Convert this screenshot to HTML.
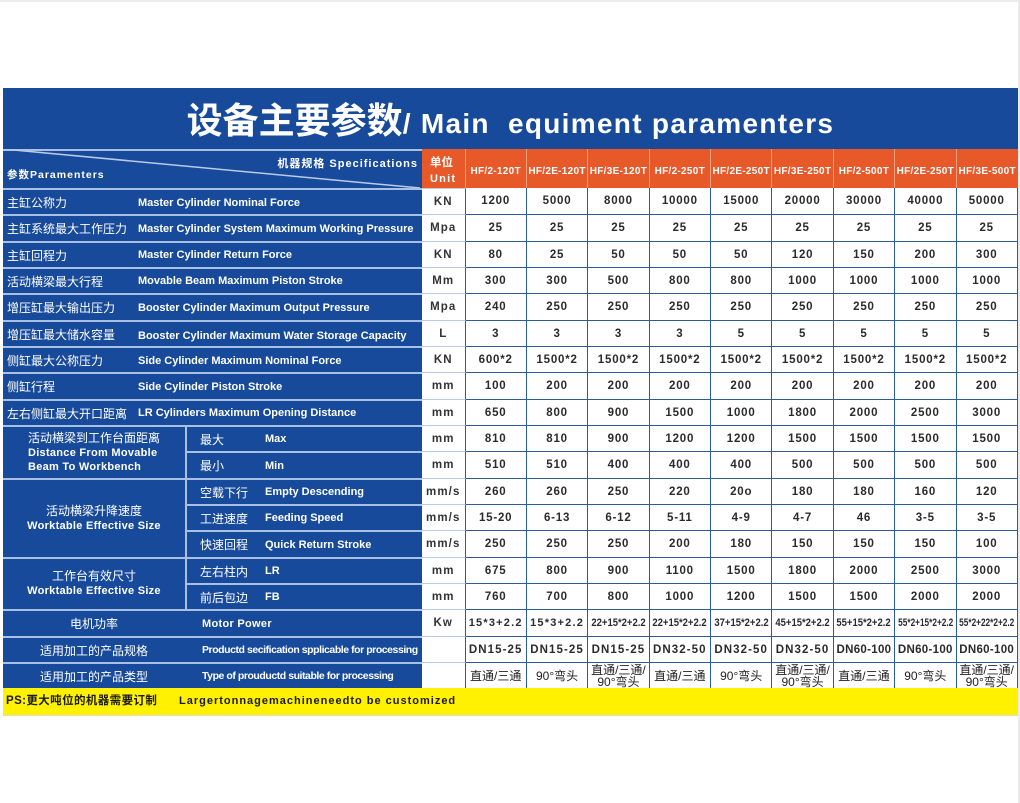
<!DOCTYPE html>
<html><head><meta charset="utf-8">
<style>
*{box-sizing:border-box;margin:0;padding:0}
body{width:1020px;height:803px;position:relative;overflow:hidden;background:#fff;font-family:"Liberation Sans","Noto Sans CJK SC",sans-serif}
.a{position:absolute}
.row{position:absolute;left:3px;width:1015px;display:flex}
.lab{flex:0 0 419px;width:419px;position:relative;background:#174a9b;border-top:2px solid #a9c0e2;color:#fff}
.lab.g{border-top:none;display:flex}
.ga{flex:0 0 182px;width:182px;position:relative;height:100%}
.gb{flex:0 0 237px;width:237px;position:relative;height:100%;border-top:2px solid #a9c0e2;border-left:2px solid #a9c0e2}
.bt{border-top:2px solid #a9c0e2}
.nl{border-left:none}
.cn{position:absolute;left:4px;top:0;bottom:0;display:flex;align-items:center;font-size:12px;white-space:nowrap}
.en{position:absolute;left:135px;top:0;bottom:0;display:flex;align-items:center;font-size:11px;font-weight:bold;white-space:nowrap}
.s1{left:13px}
.s2{left:78px}
.ce{left:0;right:0;justify-content:center}
.en2{left:17px;font-size:10.5px;letter-spacing:-0.45px}
.u{flex:0 0 43.5px;width:43.5px;background:#fff;border-top:1px solid #bccce4;border-right:1px solid #2d5a9e;display:flex;align-items:center;justify-content:center;font-weight:bold;font-size:11.5px;letter-spacing:1.1px;color:#333}
.d{flex:0 0 61.39px;width:61.39px;min-width:0;background:#fff;border-top:1px solid #2d5a9e;border-right:1px solid #2d5a9e;display:flex;align-items:center;justify-content:center;font-weight:bold;font-size:11.5px;letter-spacing:.8px;color:#2b2b2b;white-space:nowrap;overflow:visible}
.r1 .d{border-top:none}
.k{display:inline-block;font-size:11px;letter-spacing:0;transform:scaleX(.86);flex:none}
.k2{display:inline-block;font-size:11px;letter-spacing:0;transform:scaleX(.75);flex:none}
.dn{font-size:11.5px;letter-spacing:1.1px}
.dn2{letter-spacing:.3px;font-size:11.5px}
.t2{font-size:12px;font-weight:normal;letter-spacing:0;line-height:12px;text-align:center;color:#222}
.grp{position:absolute;left:3px;width:182px;display:flex;flex-direction:column;justify-content:center;align-items:center;color:#fff;z-index:2}
.grp .c{font-size:12px;line-height:15px}
.grp .e{font-size:11px;font-weight:bold;line-height:14.5px;letter-spacing:.28px;white-space:nowrap}
.hm{flex:0 0 61.39px;width:61.39px;min-width:0;border-right:1px solid #f2a07c;display:flex;justify-content:center;align-items:center;padding-top:5px;font-weight:bold;font-size:10px;letter-spacing:.3px;color:#fff;white-space:nowrap}
</style></head>
<body>
<div class="a" style="left:0;top:0;width:1020px;height:2px;background:#ebebeb"></div>
<div class="a" style="left:1018px;top:0;width:2px;height:803px;background:#ebebeb"></div>

<!-- Title -->
<div class="a" style="left:3px;top:88px;width:1015px;height:61px;background:#174a9b;color:#fff;text-align:center;line-height:61px;white-space:pre"><span style="font-family:'Noto Sans CJK SC','Liberation Sans',sans-serif;font-weight:bold;font-size:36px">设备主要参数</span><span style="font-family:'Liberation Sans',sans-serif;font-weight:bold;font-size:28px;letter-spacing:1.3px">/ Main  equiment paramenters</span></div>

<!-- Header -->
<div class="row" style="top:149px;height:39px">
  <div class="lab" style="border-top:2px solid #a9c0e2">
    <svg class="a" style="left:0;top:-2px" width="419" height="39"><line x1="0" y1="0" x2="417" y2="39" stroke="#b9cbe6" stroke-width="1.5"/></svg>
    <span class="a" style="right:4px;top:4px;font-size:11px;font-weight:bold;letter-spacing:1px;white-space:nowrap">机器规格 Specifications</span>
    <span class="a" style="left:4px;top:16px;font-size:10.5px;font-weight:bold;letter-spacing:1px;white-space:nowrap">参数Paramenters</span>
  </div>
  <div style="flex:0 0 43.5px;width:43.5px;background:#e8592a;border-right:1px solid #f2a07c;position:relative;color:#fff;font-weight:bold">
    <span class="a" style="left:8px;top:7px;font-size:11.5px;line-height:15px">单位</span>
    <span class="a" style="left:8px;top:23px;font-size:11px;letter-spacing:1.2px;line-height:15px">Unit</span>
  </div>
  <div style="flex:0 0 552.5px;width:552.5px;display:flex;background:#e8592a">
    <div class="hm">HF/2-120T</div><div class="hm">HF/2E-120T</div><div class="hm">HF/3E-120T</div><div class="hm">HF/2-250T</div><div class="hm">HF/2E-250T</div><div class="hm">HF/3E-250T</div><div class="hm">HF/2-500T</div><div class="hm">HF/2E-250T</div><div class="hm" style="border-right:none">HF/3E-500T</div>
  </div>
</div>

<!-- Rows 1-9 -->
<div class="row r1" style="top:188px;height:26px"><div class="lab"><span class="cn">主缸公称力</span><span class="en" style="padding-top:2px">Master Cylinder Nominal Force</span></div><div class="u">KN</div>
<div class="d">1200</div><div class="d">5000</div><div class="d">8000</div><div class="d">10000</div><div class="d">15000</div><div class="d">20000</div><div class="d">30000</div><div class="d">40000</div><div class="d">50000</div></div>

<div class="row" style="top:214px;height:27px"><div class="lab"><span class="cn">主缸系统最大工作压力</span><span class="en">Master Cylinder System Maximum Working Pressure</span></div><div class="u">Mpa</div>
<div class="d">25</div><div class="d">25</div><div class="d">25</div><div class="d">25</div><div class="d">25</div><div class="d">25</div><div class="d">25</div><div class="d">25</div><div class="d">25</div></div>

<div class="row" style="top:241px;height:26px"><div class="lab"><span class="cn">主缸回程力</span><span class="en">Master Cylinder Return Force</span></div><div class="u">KN</div>
<div class="d">80</div><div class="d">25</div><div class="d">50</div><div class="d">50</div><div class="d">50</div><div class="d">120</div><div class="d">150</div><div class="d">200</div><div class="d">300</div></div>

<div class="row" style="top:267px;height:26px"><div class="lab"><span class="cn">活动横梁最大行程</span><span class="en">Movable Beam Maximum Piston Stroke</span></div><div class="u">Mm</div>
<div class="d">300</div><div class="d">300</div><div class="d">500</div><div class="d">800</div><div class="d">800</div><div class="d">1000</div><div class="d">1000</div><div class="d">1000</div><div class="d">1000</div></div>

<div class="row" style="top:293px;height:27px"><div class="lab"><span class="cn">增压缸最大输出压力</span><span class="en">Booster Cylinder Maximum Output Pressure</span></div><div class="u">Mpa</div>
<div class="d">240</div><div class="d">250</div><div class="d">250</div><div class="d">250</div><div class="d">250</div><div class="d">250</div><div class="d">250</div><div class="d">250</div><div class="d">250</div></div>

<div class="row" style="top:320px;height:26px"><div class="lab"><span class="cn">增压缸最大储水容量</span><span class="en" style="padding-top:4px">Booster Cylinder Maximum Water Storage Capacity</span></div><div class="u">L</div>
<div class="d">3</div><div class="d">3</div><div class="d">3</div><div class="d">3</div><div class="d">5</div><div class="d">5</div><div class="d">5</div><div class="d">5</div><div class="d">5</div></div>

<div class="row" style="top:346px;height:26px"><div class="lab"><span class="cn">侧缸最大公称压力</span><span class="en" style="padding-top:2px">Side Cylinder Maximum Nominal Force</span></div><div class="u">KN</div>
<div class="d">600*2</div><div class="d">1500*2</div><div class="d">1500*2</div><div class="d">1500*2</div><div class="d">1500*2</div><div class="d">1500*2</div><div class="d">1500*2</div><div class="d">1500*2</div><div class="d">1500*2</div></div>

<div class="row" style="top:372px;height:27px"><div class="lab"><span class="cn">侧缸行程</span><span class="en">Side Cylinder Piston Stroke</span></div><div class="u">mm</div>
<div class="d">100</div><div class="d">200</div><div class="d">200</div><div class="d">200</div><div class="d">200</div><div class="d">200</div><div class="d">200</div><div class="d">200</div><div class="d">200</div></div>

<div class="row" style="top:399px;height:26px"><div class="lab"><span class="cn">左右侧缸最大开口距离</span><span class="en">LR Cylinders Maximum Opening Distance</span></div><div class="u">mm</div>
<div class="d">650</div><div class="d">800</div><div class="d">900</div><div class="d">1500</div><div class="d">1000</div><div class="d">1800</div><div class="d">2000</div><div class="d">2500</div><div class="d">3000</div></div>

<!-- Group 1 -->
<div class="row" style="top:425px;height:26px"><div class="lab g"><div class="ga bt"></div><div class="gb"><span class="cn s1">最大</span><span class="en s2">Max</span></div></div><div class="u">mm</div>
<div class="d">810</div><div class="d">810</div><div class="d">900</div><div class="d">1200</div><div class="d">1200</div><div class="d">1500</div><div class="d">1500</div><div class="d">1500</div><div class="d">1500</div></div>

<div class="row" style="top:451px;height:27px"><div class="lab g"><div class="ga"></div><div class="gb"><span class="cn s1">最小</span><span class="en s2">Min</span></div></div><div class="u">mm</div>
<div class="d">510</div><div class="d">510</div><div class="d">400</div><div class="d">400</div><div class="d">400</div><div class="d">500</div><div class="d">500</div><div class="d">500</div><div class="d">500</div></div>

<!-- Group 2 -->
<div class="row" style="top:478px;height:26px"><div class="lab g"><div class="ga bt"></div><div class="gb"><span class="cn s1">空载下行</span><span class="en s2">Empty Descending</span></div></div><div class="u">mm/s</div>
<div class="d">260</div><div class="d">260</div><div class="d">250</div><div class="d">220</div><div class="d">20o</div><div class="d">180</div><div class="d">180</div><div class="d">160</div><div class="d">120</div></div>

<div class="row" style="top:504px;height:26px"><div class="lab g"><div class="ga"></div><div class="gb"><span class="cn s1">工进速度</span><span class="en s2">Feeding Speed</span></div></div><div class="u">mm/s</div>
<div class="d">15-20</div><div class="d">6-13</div><div class="d">6-12</div><div class="d">5-11</div><div class="d">4-9</div><div class="d">4-7</div><div class="d">46</div><div class="d">3-5</div><div class="d">3-5</div></div>

<div class="row" style="top:530px;height:27px"><div class="lab g"><div class="ga"></div><div class="gb"><span class="cn s1">快速回程</span><span class="en s2">Quick Return Stroke</span></div></div><div class="u">mm/s</div>
<div class="d">250</div><div class="d">250</div><div class="d">250</div><div class="d">200</div><div class="d">180</div><div class="d">150</div><div class="d">150</div><div class="d">150</div><div class="d">100</div></div>

<!-- Group 3 -->
<div class="row" style="top:557px;height:26px"><div class="lab g"><div class="ga bt"></div><div class="gb"><span class="cn s1">左右柱内</span><span class="en s2">LR</span></div></div><div class="u">mm</div>
<div class="d">675</div><div class="d">800</div><div class="d">900</div><div class="d">1100</div><div class="d">1500</div><div class="d">1800</div><div class="d">2000</div><div class="d">2500</div><div class="d">3000</div></div>

<div class="row" style="top:583px;height:26px"><div class="lab g"><div class="ga"></div><div class="gb"><span class="cn s1">前后包边</span><span class="en s2">FB</span></div></div><div class="u">mm</div>
<div class="d">760</div><div class="d">700</div><div class="d">800</div><div class="d">1000</div><div class="d">1200</div><div class="d">1500</div><div class="d">1500</div><div class="d">2000</div><div class="d">2000</div></div>

<!-- Rows 17-19 -->
<div class="row" style="top:609px;height:27px"><div class="lab g"><div class="ga bt"><span class="cn ce">电机功率</span></div><div class="gb nl"><span class="en" style="left:17px;letter-spacing:.3px">Motor Power</span></div></div><div class="u">Kw</div>
<div class="d" style="letter-spacing:1.2px;font-size:11px">15*3+2.2</div><div class="d" style="letter-spacing:1.2px;font-size:11px">15*3+2.2</div><div class="d"><span class="k">22+15*2+2.2</span></div><div class="d"><span class="k">22+15*2+2.2</span></div><div class="d"><span class="k">37+15*2+2.2</span></div><div class="d"><span class="k">45+15*2+2.2</span></div><div class="d"><span class="k">55+15*2+2.2</span></div><div class="d"><span class="k2">55*2+15*2+2.2</span></div><div class="d"><span class="k2">55*2+22*2+2.2</span></div></div>

<div class="row" style="top:636px;height:26px"><div class="lab g"><div class="ga bt"><span class="cn ce">适用加工的产品规格</span></div><div class="gb nl"><span class="en en2">Productd secification spplicable for processing</span></div></div><div class="u"></div>
<div class="d dn">DN15-25</div><div class="d dn">DN15-25</div><div class="d dn">DN15-25</div><div class="d dn">DN32-50</div><div class="d dn">DN32-50</div><div class="d dn">DN32-50</div><div class="d dn dn2">DN60-100</div><div class="d dn dn2">DN60-100</div><div class="d dn dn2">DN60-100</div></div>

<div class="row" style="top:662px;height:26px"><div class="lab g"><div class="ga bt"><span class="cn ce">适用加工的产品类型</span></div><div class="gb nl"><span class="en en2">Type of prouductd suitable for processing</span></div></div><div class="u"></div>
<div class="d t2">直通/三通</div><div class="d t2">90°弯头</div><div class="d t2">直通/三通/<br>90°弯头</div><div class="d t2">直通/三通</div><div class="d t2">90°弯头</div><div class="d t2">直通/三通/<br>90°弯头</div><div class="d t2">直通/三通</div><div class="d t2">90°弯头</div><div class="d t2">直通/三通/<br>90°弯头</div></div>

<!-- Group labels -->
<div class="grp" style="top:427px;height:51px;align-items:flex-start;padding-left:25px">
  <div class="c">活动横梁到工作台面距离</div>
  <div class="e">Distance From Movable</div>
  <div class="e">Beam To Workbench</div>
</div>
<div class="grp" style="top:480px;height:77px">
  <div class="c">活动横梁升降速度</div>
  <div class="e">Worktable Effective Size</div>
</div>
<div class="grp" style="top:559px;height:50px">
  <div class="c">工作台有效尺寸</div>
  <div class="e">Worktable Effective Size</div>
</div>

<!-- Footer -->
<div class="a" style="left:3px;top:688px;width:1015px;height:27px;background:#fff100;color:#1a1a1a;font-weight:bold;line-height:27px;white-space:nowrap">
  <span class="a" style="left:3px;top:0;font-size:11.5px;letter-spacing:.4px">PS:更大吨位的机器需要订制</span>
  <span class="a" style="left:176px;top:0;font-size:11px;letter-spacing:1px">Largertonnagemachineneedto be customized</span>
</div>
<div class="a" style="left:3px;top:715px;width:1015px;height:1px;background:#dcdcdc"></div>
</body></html>
